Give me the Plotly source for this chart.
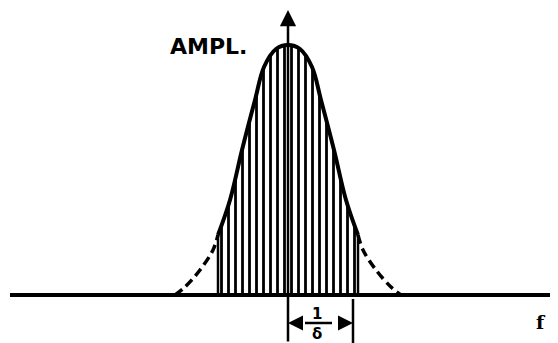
import plotly.graph_objects as go

# curve: offset from centre (px-like units) and amplitude
solid_x = [-70, -58, -46, -33, -24, -12, 0, 12, 24, 33, 46, 58, 70]
solid_y = [60, 95, 145, 195, 228, 246, 250, 246, 228, 195, 145, 95, 60]

left_tail_x = [-113, -103, -88, -75, -70]
left_tail_y = [0, 8, 25, 45, 60]
right_tail_x = [70, 75, 88, 103, 113]
right_tail_y = [60, 45, 25, 8, 0]

band_edges = [0, 65]   # the 1/delta spacing marks
axis_top = 285
axis_bottom = -48

fig = go.Figure()

# hatched area under the solid part
fig.add_trace(go.Scatter(
    x=solid_x, y=solid_y, mode="lines", line=dict(color="black", width=4, shape="spline"),
    fill="tozeroy", fillcolor="white",
    fillpattern=dict(shape="|", size=7, solidity=0.4, fgcolor="black", bgcolor="white", fillmode="replace"),
    hoverinfo="skip"))

# edge hatch lines
fig.add_trace(go.Scatter(
    x=[solid_x[0], solid_x[0], None, solid_x[-1], solid_x[-1]],
    y=[0, solid_y[0], None, 0, solid_y[-1]],
    mode="lines", line=dict(color="black", width=2.5), hoverinfo="skip"))

# dashed tails
for tx, ty in [(left_tail_x, left_tail_y), (right_tail_x, right_tail_y)]:
    fig.add_trace(go.Scatter(
        x=tx, y=ty, mode="lines",
        line=dict(color="black", width=3.5, dash="9px,5px", shape="spline"),
        hoverinfo="skip"))

# baseline
fig.add_shape(type="line", x0=-278, x1=270, y0=0, y1=0, line=dict(color="black", width=4))

# vertical axis with arrow
fig.add_annotation(x=0, y=axis_top, ax=0, ay=axis_bottom, xref="x", yref="y",
                   axref="x", ayref="y", text="", showarrow=True,
                   arrowhead=2, arrowsize=1.3, arrowwidth=2.5, arrowcolor="black")

# right dimension line
fig.add_shape(type="line", x0=band_edges[1], x1=band_edges[1], y0=-4, y1=axis_bottom,
              line=dict(color="black", width=2.5))

# dimension arrows
fig.add_annotation(x=band_edges[0], y=-28, ax=14, ay=-28, xref="x", yref="y",
                   axref="x", ayref="y", text="", showarrow=True,
                   arrowhead=2, arrowsize=1.2, arrowwidth=2.5, arrowcolor="black")
fig.add_annotation(x=band_edges[1], y=-28, ax=50, ay=-28, xref="x", yref="y",
                   axref="x", ayref="y", text="", showarrow=True,
                   arrowhead=2, arrowsize=1.2, arrowwidth=2.5, arrowcolor="black")

# fraction 1/delta
fig.add_shape(type="line", x0=17, x1=44, y0=-28, y1=-28, line=dict(color="black", width=2.5))
fig.add_annotation(x=29, y=-19, text="<b>1</b>", showarrow=False,
                   font=dict(family="DejaVu Sans", size=15, color="black"))
fig.add_annotation(x=29, y=-39, text="<b>δ</b>", showarrow=False,
                   font=dict(family="DejaVu Sans", size=15, color="black"))

fig.add_annotation(x=-80, y=249, text="<b>AMPL.</b>", showarrow=False,
                   font=dict(family="DejaVu Sans", size=22, color="black"))
fig.add_annotation(x=253, y=-27, text="<b>f</b>", showarrow=False,
                   font=dict(family="DejaVu Serif", size=19, color="black"))

# page body has an 8px margin, so the figure is 8px smaller and ranges start 8px in
fig.update_layout(
    width=550, height=335, margin=dict(l=0, r=0, t=0, b=0),
    paper_bgcolor="white", plot_bgcolor="white", showlegend=False,
    xaxis=dict(range=[-280, 270], visible=False, fixedrange=True),
    yaxis=dict(range=[axis_bottom, 287], visible=False, fixedrange=True),
)

fig.write_html("out.html")
